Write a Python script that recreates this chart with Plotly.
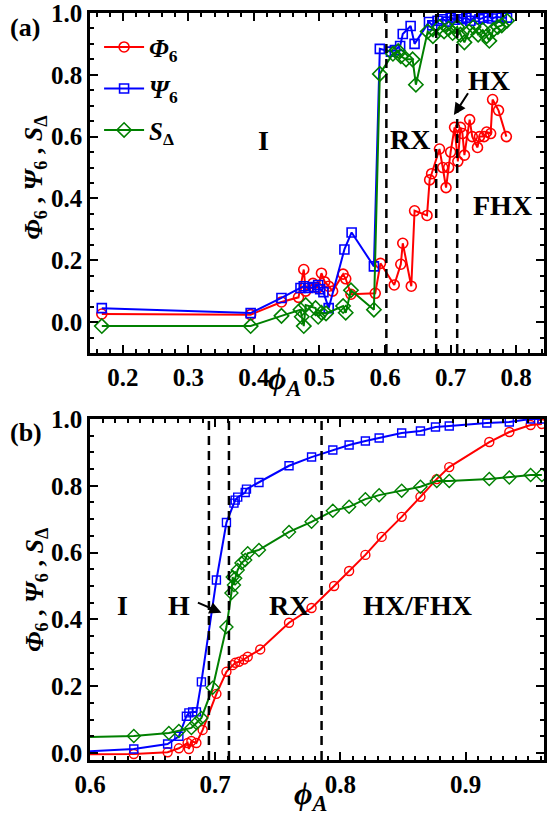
import plotly.graph_objects as go
from plotly.subplots import make_subplots

# ---------------- Panel (a) data ----------------
phi6_a_x = [0.168, 0.395, 0.442, 0.468, 0.476, 0.479, 0.49, 0.497, 0.503, 0.508, 0.514, 0.52,
            0.536, 0.54, 0.548, 0.585, 0.593, 0.614, 0.624, 0.627, 0.64, 0.645, 0.664, 0.668,
            0.671, 0.683, 0.688, 0.693, 0.697, 0.70, 0.706, 0.711, 0.715, 0.718, 0.721, 0.729,
            0.733, 0.741, 0.744, 0.751, 0.755, 0.761, 0.764, 0.773, 0.785]
phi6_a_y = [0.026, 0.024, 0.065, 0.08, 0.17, 0.10, 0.125, 0.11, 0.158, 0.13, 0.116, 0.10,
            0.155, 0.14, 0.09, 0.093, 0.19, 0.12, 0.187, 0.255, 0.116, 0.36, 0.345, 0.46,
            0.48, 0.56, 0.50, 0.435, 0.50, 0.55, 0.63, 0.52, 0.63, 0.61, 0.54, 0.655,
            0.60, 0.565, 0.60, 0.60, 0.615, 0.61, 0.72, 0.685, 0.60]

psi6_a_x = [0.168, 0.395, 0.442, 0.471, 0.476, 0.483, 0.492, 0.498, 0.501, 0.506, 0.514, 0.538,
            0.549, 0.583, 0.592, 0.609, 0.615, 0.623, 0.627, 0.639, 0.645, 0.667, 0.672, 0.68,
            0.688, 0.695, 0.70, 0.706, 0.712, 0.718, 0.724, 0.73, 0.737, 0.744, 0.75, 0.757,
            0.763, 0.77, 0.778, 0.786]
psi6_a_y = [0.045, 0.029, 0.078, 0.11, 0.116, 0.11, 0.113, 0.12, 0.106, 0.097, 0.045, 0.235,
            0.29, 0.18, 0.884, 0.875, 0.88, 0.893, 0.932, 0.958, 0.90, 0.971, 0.96, 0.975,
            0.98, 0.972, 0.985, 0.978, 0.99, 0.98, 0.985, 0.975, 0.988, 0.98, 0.985, 0.99,
            0.982, 0.988, 0.985, 0.985]

sd_a_x = [0.168, 0.395, 0.442, 0.471, 0.473, 0.476, 0.479, 0.494, 0.498, 0.503, 0.51, 0.536,
          0.54, 0.548, 0.583, 0.592, 0.612, 0.62, 0.624, 0.632, 0.642, 0.647, 0.665, 0.673,
          0.683, 0.69, 0.697, 0.703, 0.71, 0.715, 0.721, 0.728, 0.735, 0.742, 0.749, 0.755,
          0.759, 0.765, 0.772, 0.778, 0.786]
sd_a_y = [-0.013, -0.013, 0.02, 0.04, 0.017, -0.013, 0.055, 0.045, 0.017, 0.03, 0.028, 0.052,
          0.03, 0.103, 0.04, 0.803, 0.868, 0.877, 0.86, 0.85, 0.85, 0.768, 0.94, 0.925,
          0.955, 0.94, 0.95, 0.935, 0.955, 0.93, 0.905, 0.94, 0.955, 0.93, 0.945, 0.925,
          0.91, 0.945, 0.955, 0.96, 0.975]

# ---------------- Panel (b) data ----------------
phi6_b_x = [0.57, 0.635, 0.662, 0.671, 0.678, 0.679, 0.681, 0.685, 0.69, 0.701, 0.709, 0.714,
            0.716, 0.719, 0.723, 0.726, 0.736, 0.759, 0.777, 0.795, 0.807, 0.82, 0.833, 0.849,
            0.864, 0.877, 0.887, 0.919, 0.935, 0.952, 0.961]
phi6_b_y = [-0.005, -0.003, 0.002, 0.014, 0.03, 0.012, 0.036, 0.03, 0.069, 0.177, 0.243, 0.263,
            0.27, 0.273, 0.28, 0.288, 0.31, 0.39, 0.434, 0.5, 0.545, 0.593, 0.647, 0.707,
            0.767, 0.82, 0.856, 0.931, 0.961, 0.982, 0.985]

psi6_b_x = [0.57, 0.635, 0.662, 0.671, 0.677, 0.679, 0.682, 0.685, 0.689, 0.701, 0.709, 0.715,
            0.716, 0.718, 0.724, 0.725, 0.735, 0.759, 0.777, 0.794, 0.807, 0.82, 0.831, 0.849,
            0.864, 0.876, 0.887, 0.917, 0.935, 0.952, 0.961]
psi6_b_y = [0.0, 0.012, 0.027, 0.05, 0.11, 0.12, 0.123, 0.123, 0.213, 0.518, 0.69, 0.748,
            0.757, 0.766, 0.78, 0.79, 0.81, 0.86, 0.886, 0.907, 0.922, 0.934, 0.943, 0.958,
            0.964, 0.976, 0.979, 0.988, 0.991, 1.0, 1.0]

sd_b_x = [0.57, 0.635, 0.663, 0.671, 0.681, 0.685, 0.689, 0.698, 0.709, 0.713, 0.714, 0.715,
          0.716, 0.718, 0.721, 0.724, 0.726, 0.735, 0.759, 0.777, 0.794, 0.807, 0.82, 0.831,
          0.849, 0.864, 0.877, 0.887, 0.919, 0.935, 0.952, 0.961]
sd_b_y = [0.045, 0.051, 0.06, 0.066, 0.075, 0.09, 0.105, 0.195, 0.377, 0.479, 0.527, 0.503,
          0.523, 0.548, 0.569, 0.578, 0.598, 0.608, 0.662, 0.692, 0.725, 0.737, 0.76, 0.772,
          0.785, 0.797, 0.814, 0.814, 0.82, 0.825, 0.832, 0.832]

# phase boundaries
bounds_a = [0.602, 0.678, 0.71]
bounds_b = [0.695, 0.711, 0.785]

series_names = ["<i>Φ</i><sub>6</sub>", "<i>Ψ</i><sub>6</sub>", "<i>S</i><sub>Δ</sub>"]
colors = ["#ff0000", "#0000ff", "#008000"]
symbols = ["circle-open", "square-open", "diamond-open"]
sizes = [10, 9, 11]

FONT = "Liberation Serif, Times New Roman, serif"

fig = make_subplots(rows=2, cols=1, vertical_spacing=0.08)

data_a = [(phi6_a_x, phi6_a_y), (psi6_a_x, psi6_a_y), (sd_a_x, sd_a_y)]
data_b = [(phi6_b_x, phi6_b_y), (psi6_b_x, psi6_b_y), (sd_b_x, sd_b_y)]

for i, (xs, ys) in enumerate(data_a):
    fig.add_trace(go.Scatter(x=xs, y=ys, mode="lines+markers", name=series_names[i],
                             legendgroup=str(i),
                             line=dict(color=colors[i], width=2),
                             marker=dict(symbol=symbols[i], size=sizes[i], color=colors[i],
                                         line=dict(width=1.6, color=colors[i]))),
                  row=1, col=1)
for i, (xs, ys) in enumerate(data_b):
    fig.add_trace(go.Scatter(x=xs, y=ys, mode="lines+markers", showlegend=False,
                             line=dict(color=colors[i], width=2),
                             marker=dict(symbol=symbols[i], size=sizes[i] - 1, color=colors[i],
                                         line=dict(width=1.4, color=colors[i]))),
                  row=2, col=1)

tickfont = dict(family=FONT, size=25, color="black", weight="bold")
common = dict(showline=True, linecolor="black", linewidth=2.5, mirror="ticks",
              ticks="inside", ticklen=8, tickwidth=2, tickcolor="black",
              showgrid=False, zeroline=False, tickfont=tickfont,
              ticklabeloverflow="allow")

fig.update_xaxes(**common, range=[0.15, 0.8424], tick0=0, dtick=0.1, tickformat=".1f",
                 minor=dict(ticks="inside", ticklen=4, tickwidth=1.5, dtick=0.02, tick0=0,
                            tickcolor="black", showgrid=False),
                 domain=[0, 1], row=1, col=1)
fig.update_yaxes(**common, range=[-0.1, 1.0], tick0=0, dtick=0.2, tickformat=".1f",
                 minor=dict(ticks="inside", ticklen=4, tickwidth=1.5, dtick=0.05, tick0=0,
                            tickcolor="black", showgrid=False),
                 domain=[0.5449, 1.0], row=1, col=1)
fig.update_xaxes(**common, range=[0.6, 0.9627], tick0=0, dtick=0.1, tickformat=".1f",
                 minor=dict(ticks="inside", ticklen=4, tickwidth=1.5, dtick=0.01, tick0=0,
                            tickcolor="black", showgrid=False),
                 domain=[0, 1], row=2, col=1)
fig.update_yaxes(**common, range=[-0.021, 1.0], tick0=0, dtick=0.2, tickformat=".1f",
                 minor=dict(ticks="inside", ticklen=4, tickwidth=1.5, dtick=0.05, tick0=0,
                            tickcolor="black", showgrid=False),
                 domain=[0, 0.4565], row=2, col=1)

# dashed phase boundaries
for b in bounds_a:
    fig.add_shape(type="line", xref="x", yref="y domain", x0=b, x1=b, y0=0, y1=1,
                  line=dict(color="black", width=2.5, dash="9px,6px"))
for b in bounds_b:
    fig.add_shape(type="line", xref="x2", yref="y2 domain", x0=b, x1=b, y0=0, y1=1,
                  line=dict(color="black", width=2.5, dash="9px,6px"))

labfont = dict(family=FONT, size=28, color="black", weight="bold")
anns = [
    # panel (a) region labels
    dict(x=0.415, y=0.587, xref="x", yref="y", text="I", showarrow=False, font=labfont),
    dict(x=0.638, y=0.59, xref="x", yref="y", text="RX", showarrow=False, font=labfont),
    dict(x=0.759, y=0.78, xref="x", yref="y", text="HX", showarrow=False, font=labfont),
    dict(x=0.779, y=0.377, xref="x", yref="y", text="FHX", showarrow=False, font=labfont),
    # panel (b) region labels
    dict(x=0.626, y=0.443, xref="x2", yref="y2", text="I", showarrow=False, font=labfont),
    dict(x=0.671, y=0.443, xref="x2", yref="y2", text="H", showarrow=False, font=labfont),
    dict(x=0.759, y=0.443, xref="x2", yref="y2", text="RX", showarrow=False, font=labfont),
    dict(x=0.862, y=0.443, xref="x2", yref="y2", text="HX/FHX", showarrow=False, font=labfont),
    # panel tags
    dict(x=-0.18, y=1.003, xref="paper", yref="paper", text="(a)", showarrow=False,
         xanchor="left", yanchor="top", font=dict(family=FONT, size=26, color="black", weight="bold")),
    dict(x=-0.18, y=0.46, xref="paper", yref="paper", text="(b)", showarrow=False,
         xanchor="left", yanchor="top", font=dict(family=FONT, size=26, color="black", weight="bold")),
    # axis titles
    dict(x=0.43, y=0.508, xref="paper", yref="paper", text="<i>ϕ</i><sub><i>A</i></sub>",
         showarrow=False, yanchor="middle",
         font=dict(family=FONT, size=32, color="black", weight="bold")),
    dict(x=0.486, y=-0.047, xref="paper", yref="paper", text="<i>ϕ</i><sub><i>A</i></sub>",
         showarrow=False, yanchor="middle",
         font=dict(family=FONT, size=32, color="black", weight="bold")),
    dict(x=-0.16, y=0.78, xref="paper", yref="paper", textangle=-90, yanchor="middle",
         text="<i>Φ</i><sub>6</sub> , <i>Ψ</i><sub>6</sub> , <i>S</i><sub>Δ</sub>",
         showarrow=False, font=dict(family=FONT, size=26, color="black", weight="bold")),
    dict(x=-0.16, y=0.228, xref="paper", yref="paper", textangle=-90, yanchor="middle",
         text="<i>Φ</i><sub>6</sub> , <i>Ψ</i><sub>6</sub> , <i>S</i><sub>Δ</sub>",
         showarrow=False, font=dict(family=FONT, size=26, color="black", weight="bold")),
]
for a in anns:
    fig.add_annotation(**a)

# arrows
fig.add_annotation(x=0.705, y=0.67, xref="x", yref="y", ax=0.728, ay=0.745, axref="x", ayref="y",
                   text="", showarrow=True, arrowhead=2, arrowsize=1.2, arrowwidth=2,
                   arrowcolor="black")
fig.add_annotation(x=0.705, y=0.42, xref="x2", yref="y2", ax=0.685, ay=0.452, axref="x2", ayref="y2",
                   text="", showarrow=True, arrowhead=2, arrowsize=1.2, arrowwidth=2,
                   arrowcolor="black")

fig.update_layout(
    width=547, height=823,
    margin=dict(l=90, r=0, t=13, b=63),
    paper_bgcolor="white", plot_bgcolor="white",
    showlegend=True,
    legend=dict(x=0.02, y=0.985, xanchor="left", yanchor="top", bgcolor="rgba(0,0,0,0)",
                font=dict(family=FONT, size=25, color="black", weight="bold"),
                tracegroupgap=6, itemwidth=40),
)

fig.write_html("out.html")
